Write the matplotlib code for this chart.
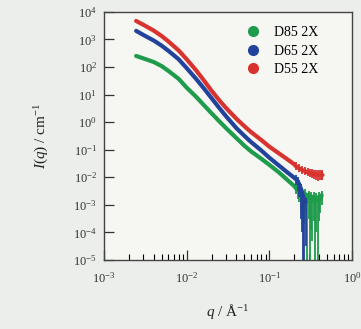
import numpy as np
import matplotlib.pyplot as plt
from matplotlib.ticker import LogLocator, NullLocator

plt.rcParams['font.family'] = ['Liberation Serif', 'DejaVu Serif']
plt.rcParams['mathtext.fontset'] = 'custom'
plt.rcParams['mathtext.rm'] = 'Liberation Serif'
plt.rcParams['mathtext.it'] = 'Liberation Serif:italic'

# q / Å^-1 for the smooth part of each curve
q_main = [0.00245, 0.003, 0.004, 0.005, 0.006, 0.008, 0.01, 0.013, 0.016, 0.02,
          0.025, 0.03, 0.04, 0.05, 0.06, 0.08, 0.1, 0.13, 0.16, 0.2]

# log10 I(q)
logI_d85 = [2.40, 2.31, 2.18, 2.03, 1.86, 1.57, 1.25, 0.92, 0.63, 0.32,
            0.02, -0.22, -0.58, -0.86, -1.06, -1.33, -1.55, -1.82, -2.06, -2.32]
logI_d65 = [3.31, 3.16, 2.96, 2.77, 2.59, 2.28, 1.96, 1.57, 1.24, 0.87,
            0.50, 0.21, -0.22, -0.50, -0.72, -1.03, -1.29, -1.57, -1.79, -2.02]
logI_d55 = [3.67, 3.53, 3.32, 3.12, 2.93, 2.60, 2.28, 1.88, 1.53, 1.14,
            0.78, 0.51, 0.12, -0.15, -0.36, -0.65, -0.89, -1.13, -1.32, -1.53]

# noisy high-q tails: q, log10 I and log10 of the lower end of the error bar
q_tail_d85 = [0.21, 0.22, 0.23, 0.24, 0.25, 0.26, 0.27, 0.285, 0.30, 0.31, 0.32,
              0.33, 0.345, 0.355, 0.37, 0.385, 0.40, 0.415, 0.43]
logI_tail_d85 = [-2.40, -2.50, -2.45, -2.60, -2.55, -2.70, -2.60, -2.75, -2.65, -2.80, -2.70,
                 -2.85, -2.70, -2.90, -2.75, -2.85, -2.70, -2.80, -2.65]
loerr_tail_d85 = [-2.6, -2.8, -2.9, -3.2, -3.0, -3.7, -3.3, -6.0, -3.5, -6.0, -3.9,
                  -4.3, -3.6, -6.0, -4.0, -6.0, -3.6, -3.3, -3.0]

q_tail_d65 = [0.21, 0.22, 0.23, 0.24, 0.25, 0.255, 0.265, 0.275]
logI_tail_d65 = [-2.07, -2.15, -2.25, -2.40, -2.55, -2.70, -2.80, -2.90]
loerr_tail_d65 = [-2.3, -2.5, -2.7, -3.5, -4.0, -6.0, -6.0, -4.5]

q_tail_d55 = [0.21, 0.23, 0.25, 0.27, 0.29, 0.31, 0.33, 0.35, 0.37, 0.39, 0.41, 0.43, 0.44]
logI_tail_d55 = [-1.60, -1.68, -1.74, -1.78, -1.82, -1.85, -1.87, -1.89, -1.90, -1.91, -1.91, -1.90, -1.92]
loerr_tail_d55 = [-1.72, -1.8, -1.87, -1.92, -1.96, -2.0, -2.03, -2.06, -2.1, -2.12, -2.1, -2.1, -2.1]

labels = ['D85 2X', 'D65 2X', 'D55 2X']
colors = ['#1f9b4c', '#22439b', '#d8332e']

fig = plt.figure(figsize=(3.61, 3.29), dpi=100, facecolor='#eceeec')
ax = fig.add_axes([0.288, 0.21, 0.687, 0.754], facecolor='#f6f6f3')

series = [
    (logI_d85, q_tail_d85, logI_tail_d85, loerr_tail_d85),
    (logI_d65, q_tail_d65, logI_tail_d65, loerr_tail_d65),
    (logI_d55, q_tail_d55, logI_tail_d55, loerr_tail_d55),
]

for (logI, qt, logIt, lot), lab, c in zip(series, labels, colors):
    I = 10 ** np.array(logI)
    It = 10 ** np.array(logIt)
    lo = 10 ** np.array(lot)
    ax.plot(q_main + qt, np.concatenate([I, It]), color=c, lw=3.0,
            solid_capstyle='round', solid_joinstyle='round')
    ax.errorbar(qt, It, yerr=[It - lo, It * 0.45], fmt='none',
                ecolor=c, elinewidth=1.3)
    ax.plot([], [], 'o', color=c, ms=7, label=lab)

ax.set_xscale('log')
ax.set_yscale('log')
ax.set_xlim(1e-3, 1)
ax.set_ylim(1e-5, 1e4)
ax.xaxis.set_major_locator(LogLocator(base=10, numticks=10))
ax.xaxis.set_minor_locator(LogLocator(base=10, subs=np.arange(2, 10), numticks=10))
ax.yaxis.set_major_locator(LogLocator(base=10, numticks=20))
ax.yaxis.set_minor_locator(NullLocator())
ax.tick_params(direction='in', labelsize=9, length=7, width=0.9,
               colors='#333333')
ax.tick_params(axis='x', pad=8)
ax.tick_params(axis='y', pad=5)
ax.tick_params(which='minor', direction='in', length=4, width=0.8)
for s in ax.spines.values():
    s.set_color('#444444')
    s.set_linewidth(1.0)

ax.set_xlabel(r'$q$ / Å$^{-1}$', fontsize=11, color='#222222', labelpad=12)
ax.set_ylabel(r'$I$($q$) / cm$^{-1}$', fontsize=11, color='#222222', labelpad=16)

ax.legend(loc='upper left', bbox_to_anchor=(0.545, 0.965), borderaxespad=0,
          frameon=False, fontsize=10, handletextpad=0.9, labelspacing=0.4,
          handlelength=1.2)

plt.savefig('out.png', dpi=100, facecolor=fig.get_facecolor())
